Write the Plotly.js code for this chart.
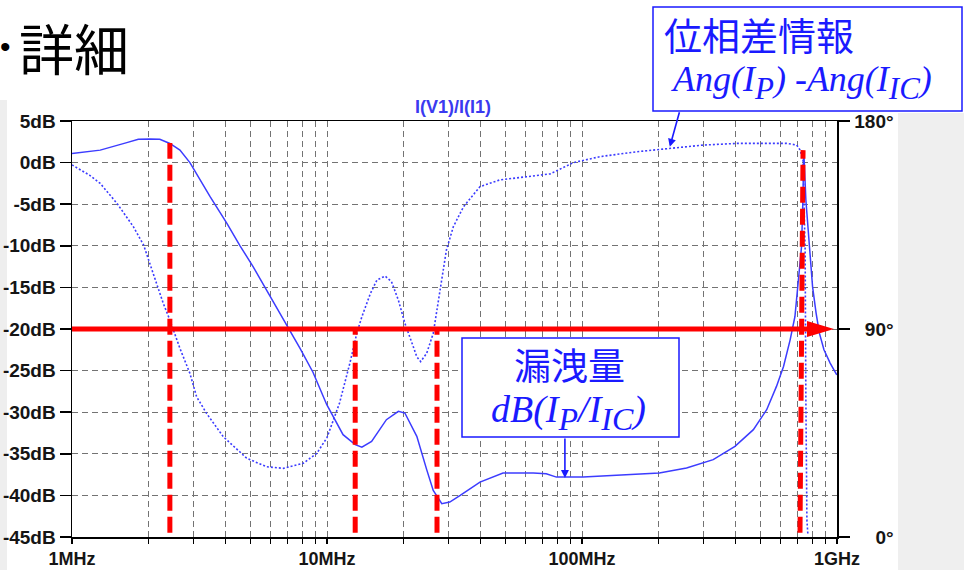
<!DOCTYPE html>
<html>
<head>
<meta charset="utf-8">
<script src="https://cdn.plot.ly/plotly-3.0.1.min.js"></script>
<style>html,body{margin:0;padding:0;background:#fff;}#chart{width:964px;height:570px;}</style>
</head>
<body>
<div id="chart"></div>
<script>
// ---- data ----
const magFreqMHz = [1.0,1.29,1.64,1.82,2.02,2.21,2.42,2.65,2.90,3.18,3.48,4.05,4.56,5.13,5.79,7.05,7.83,8.81,9.98,11.56,12.9,13.7,14.96,17.1,19.05,20.2,22.5,24.6,26.1,28.2,30.3,33.3,39.8,49.0,64.4,72.4,79.4,101,141,201,257,327,398,470,530,579,617,655,684,705,726,735,741,755,773,783,802,828,853,889,940,998];
const magDb = [1.1,1.5,2.4,2.8,2.85,2.8,2.3,1.5,0,-2.1,-4.1,-7.3,-10,-12.5,-15.3,-20,-22.3,-25.2,-29.1,-32.7,-33.9,-34.2,-33.5,-30.9,-29.9,-30.1,-32.9,-36.9,-39.4,-41.0,-40.8,-40.0,-38.4,-37.3,-37.3,-37.4,-37.8,-37.8,-37.6,-37.3,-36.7,-35.7,-34.1,-32.1,-29.7,-26.9,-24.5,-21.3,-18.5,-14.1,-10.1,-4.5,1.3,-4.5,-8.5,-11.7,-14.9,-18.1,-20.5,-22.5,-24.1,-25.5];

const phFreqMHz = [1.0,1.17,1.29,1.50,1.74,1.91,2.08,2.28,2.42,2.65,2.90,3.08,3.37,3.92,4.84,5.79,6.75,8.07,9.12,10.0,11.2,12.3,13.1,13.7,14.8,15.7,16.9,17.9,19.05,20.2,21.8,22.5,23.3,24.6,26.1,27.7,29.4,31.3,34.3,39.8,47.6,60.7,75.0,92.5,118,164,202,299,405,635,695,716,736,750,755,762,769];
const phDeg = [161,156.6,153,144.4,134.3,126.3,114.1,101.1,93.9,81.6,70.8,60.7,53.5,43.4,34.1,30.4,29.7,31.9,36.2,43,58,75.3,88.3,95.3,105.4,111.2,112.9,110.5,102.5,92.5,82.3,78,75.9,79.5,88.1,105.4,124.2,134.3,142.9,151.6,154.5,155.9,157.1,162,164.6,166.7,167.8,169.6,170.3,170.3,169.6,167.5,163,124,59,7.4,0.9];

// axis ticks
const xTickHz = [1e6,2e6,3e6,4e6,5e6,6e6,7e6,8e6,9e6,1e7,2e7,3e7,4e7,5e7,6e7,7e7,8e7,9e7,1e8,2e8,3e8,4e8,5e8,6e8,7e8,8e8,9e8,1e9];
const xTickText = ['1MHz','','','','','','','','','10MHz','','','','','','','','','100MHz','','','','','','','','','1GHz'];
const yTickVals = [5,0,-5,-10,-15,-20,-25,-30,-35,-40,-45];
const yTickText = ['5dB','0dB','-5dB','-10dB','-15dB','-20dB','-25dB','-30dB','-35dB','-40dB','-45dB'];
const y2TickVals = [0,90,180];
const y2TickText = ['\u2007\u20070°','\u200790°','180°'];

// marker lines (frequencies in MHz, levels in dB)
const markerFreqMHz = [2.42, 12.9, 27.0];
const markerTopDb = [2.36, -20, -20];
const resonanceFreqMHz = [716, 736];
const resonanceDb = [-44.5, 1.5];
const leakLevelDb = -20;

// ---- layout helpers ----
const W = 964, H = 570, ML = 72, MR = 127, MT = 121, MB = 33;
const PW = W - ML - MR, PH = H - MT - MB;
const px = v => (v - ML) / PW;       // pixel x -> paper
const py = v => (H - MB - v) / PH;   // pixel y -> paper

const blue = '#3c3cff';
const boxBlue = '#1a1aff';
const MHz = 1e6;

const traces = [
  {x: magFreqMHz.map(f => f * MHz), y: magDb, type: 'scatter', mode: 'lines',
   line: {color: blue, width: 1.5}, yaxis: 'y', hoverinfo: 'skip'},
  {x: phFreqMHz.map(f => f * MHz), y: phDeg, type: 'scatter', mode: 'lines',
   line: {color: blue, width: 1.6, dash: '2px,2px'}, yaxis: 'y2', hoverinfo: 'skip'}
];

const tickFont = {family: 'Liberation Sans, Arial, sans-serif', size: 19, color: '#151515', weight: 'bold'};
const xTickFont = {family: 'Liberation Sans, Arial, sans-serif', size: 18, color: '#151515', weight: 'bold'};
const gridDash = '6px,4px';

const shapes = [];
// light gray slide strips
shapes.push({type: 'rect', xref: 'paper', yref: 'paper', x0: px(898), x1: px(964), y0: py(570), y1: py(113),
  fillcolor: '#efefef', line: {width: 0}, layer: 'below'});
shapes.push({type: 'rect', xref: 'paper', yref: 'paper', x0: px(0), x1: px(7), y0: py(570), y1: py(100),
  fillcolor: '#eeeeee', line: {width: 0}, layer: 'below'});
// red horizontal arrow at -20 dB
shapes.push({type: 'line', xref: 'x domain', yref: 'y', x0: 0, x1: px(810), y0: leakLevelDb, y1: leakLevelDb,
  line: {color: '#ff0000', width: 5}});
shapes.push({type: 'path', xref: 'x domain', yref: 'y',
  path: 'M ' + px(807) + ' ' + (leakLevelDb + 0.95) + ' L ' + px(834) + ' ' + leakLevelDb + ' L ' + px(807) + ' ' + (leakLevelDb - 0.95) + ' Z',
  fillcolor: '#ff0000', line: {width: 0}});
// red vertical dashed markers
for (let i = 0; i < markerFreqMHz.length; i++) {
  shapes.push({type: 'line', xref: 'x', yref: 'y', x0: markerFreqMHz[i] * MHz, x1: markerFreqMHz[i] * MHz,
    y0: -44.5, y1: markerTopDb[i], line: {color: '#ff0000', width: 5, dash: '16px,6px'}});
}
shapes.push({type: 'line', xref: 'x', yref: 'y', x0: resonanceFreqMHz[0] * MHz, x1: resonanceFreqMHz[1] * MHz,
  y0: resonanceDb[0], y1: resonanceDb[1], line: {color: '#ff0000', width: 5, dash: '16px,6px'}});
// annotation boxes
shapes.push({type: 'rect', xref: 'paper', yref: 'paper', x0: px(653), x1: px(962), y0: py(111), y1: py(7),
  fillcolor: '#ffffff', line: {color: boxBlue, width: 1.5}});
shapes.push({type: 'rect', xref: 'paper', yref: 'paper', x0: px(462), x1: px(679), y0: py(437), y1: py(338),
  fillcolor: '#ffffff', line: {color: boxBlue, width: 1.5}});

const cjk = 'Noto Sans CJK JP, Noto Sans CJK SC, sans-serif';
const serif = 'Liberation Serif, Times New Roman, serif';
const sub = (t, s) => '<sub><span style="font-size:' + s + 'px">' + t + '</span></sub>';

const annotations = [
  {xref: 'paper', yref: 'paper', x: px(5), y: py(47), text: '•', showarrow: false,
   xanchor: 'center', yanchor: 'middle', font: {family: 'Liberation Sans', size: 30, color: '#000'}},
  {xref: 'paper', yref: 'paper', x: px(17), y: py(46), text: '詳細', showarrow: false,
   xanchor: 'left', yanchor: 'middle', font: {family: cjk, size: 55, color: '#000'}},
  {xref: 'paper', yref: 'paper', x: px(662), y: py(33), text: '位相差情報', showarrow: false,
   xanchor: 'left', yanchor: 'middle', font: {family: cjk, size: 38, color: boxBlue}},
  {xref: 'paper', yref: 'paper', x: px(669), y: py(82), text: '<i>Ang(I' + sub('P', 31) + ') -Ang(I' + sub('IC', 31) + ')</i>', showarrow: false,
   xanchor: 'left', yanchor: 'middle', font: {family: serif, size: 36, color: boxBlue}},
  {xref: 'paper', yref: 'paper', x: px(569), y: py(364), text: '漏洩量', showarrow: false,
   xanchor: 'center', yanchor: 'middle', font: {family: cjk, size: 37, color: boxBlue}},
  {xref: 'paper', yref: 'paper', x: px(489), y: py(412), text: '<i>dB(I' + sub('P', 32) + '/I' + sub('IC', 32) + ')</i>', showarrow: false,
   xanchor: 'left', yanchor: 'middle', font: {family: serif, size: 38, color: boxBlue}},
  // pointer arrows
  {xref: 'x', yref: 'y', x: Math.log10(221 * MHz), y: 1.9, text: '', showarrow: true,
   ax: 10, ay: -36, arrowhead: 2, arrowsize: 1, arrowwidth: 1.6, arrowcolor: boxBlue},
  {xref: 'x', yref: 'y', x: Math.log10(85.7 * MHz), y: -37.9, text: '', showarrow: true,
   ax: 0, ay: -41, arrowhead: 2, arrowsize: 1, arrowwidth: 1.6, arrowcolor: boxBlue}
];

const layout = {
  width: W, height: H,
  margin: {l: ML, r: MR, t: MT, b: MB, pad: 0},
  paper_bgcolor: '#ffffff', plot_bgcolor: '#ffffff',
  showlegend: false,
  title: {text: '<b>I(V1)/I(I1)</b>', x: 453 / W, xanchor: 'center', y: 1 - 107 / H, yanchor: 'middle',
    font: {family: 'Liberation Sans, Arial, sans-serif', size: 18, color: '#3a3af0'}},
  xaxis: {type: 'log', range: [6, 9], tickvals: xTickHz, ticktext: xTickText,
    ticks: 'outside', ticklen: 5, tickwidth: 1.2, tickcolor: '#000',
    showgrid: true, gridcolor: '#737373', gridwidth: 1, griddash: gridDash,
    showline: true, linecolor: '#000', linewidth: 1.5, mirror: true, zeroline: false,
    tickfont: xTickFont, ticklabelstandoff: 0},
  yaxis: {range: [-45, 5], tickvals: yTickVals, ticktext: yTickText,
    ticks: 'outside', ticklen: 11, tickwidth: 1.5, tickcolor: '#000',
    showgrid: true, gridcolor: '#737373', gridwidth: 1, griddash: gridDash,
    showline: true, linecolor: '#000', linewidth: 1.5, mirror: true, zeroline: false,
    tickfont: tickFont, ticklabelstandoff: 0},
  yaxis2: {overlaying: 'y', side: 'right', range: [0, 180], tickvals: y2TickVals, ticktext: y2TickText,
    ticks: 'outside', ticklen: 11, tickwidth: 1.5, tickcolor: '#000',
    showgrid: false, showline: true, linecolor: '#000', linewidth: 1.5, zeroline: false,
    tickfont: tickFont, ticklabelstandoff: 1},
  shapes: shapes,
  annotations: annotations
};

Plotly.newPlot('chart', traces, layout, {displayModeBar: false, staticPlot: true});
</script>
</body>
</html>
